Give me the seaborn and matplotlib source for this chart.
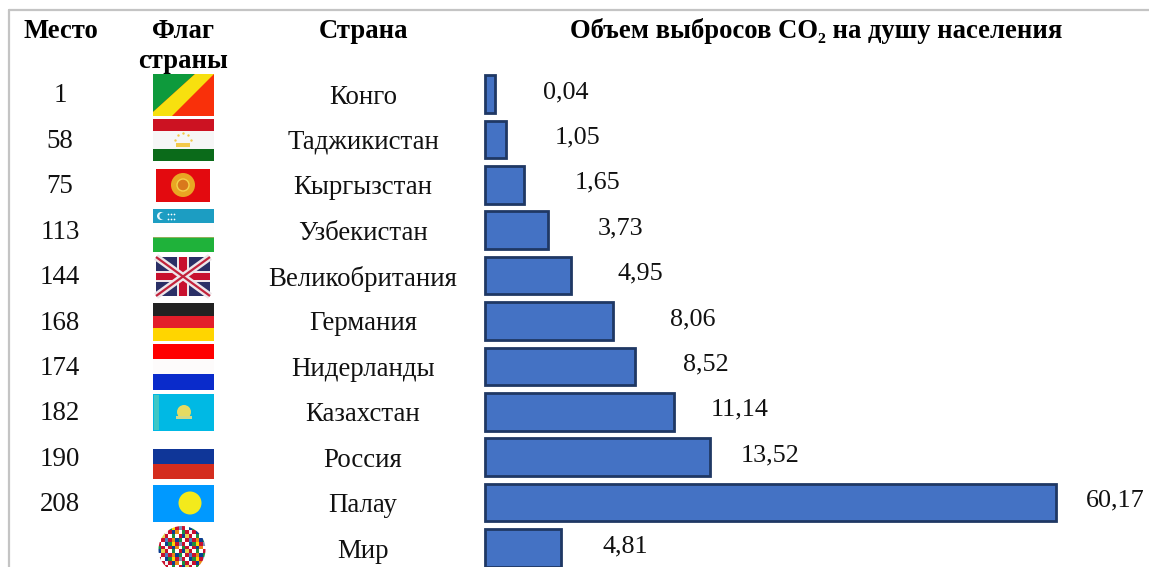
import numpy as np
import pandas as pd
import seaborn as sns
import matplotlib.pyplot as plt
from matplotlib.patches import Rectangle, Circle, Polygon

# Данные таблицы
mesta = ['1', '58', '75', '113', '144', '168', '174', '182', '190', '208', '']
strany = ['Конго', 'Таджикистан', 'Кыргызстан', 'Узбекистан', 'Великобритания', 'Германия',
          'Нидерланды', 'Казахстан', 'Россия', 'Палау', 'Мир']
podpisi = ['0,04', '1,05', '1,65', '3,73', '4,95', '8,06', '8,52', '11,14', '13,52', '60,17', '4,81']
# длины столбцов на картинке не пропорциональны подписям, поэтому читаем их отдельно
dliny = [1.1, 2.25, 4.15, 6.58, 9.0, 13.5, 15.75, 19.85, 23.65, 60.1, 7.95]
# сдвиг подписи от конца столбца, пиксели
sdvig_x = [70, 71, 73, 73, 70, 79, 71, 66, 60, 59, 65]

W, H = 1149, 567
SHAG = 45.4
Y0 = 94
X0 = 485
MASSHTAB = 572 / 60.17

sns.set_theme(style='white')
plt.rcParams['font.family'] = ['Liberation Serif', 'DejaVu Serif']
plt.rcParams['font.size'] = 19.4

df = pd.DataFrame({'strana': strany, 'dlina': dliny})

fig = plt.figure(figsize=(W / 100, H / 100), dpi=100, facecolor='white')
ax = fig.add_axes([0, 0, 1, 1])
sns.barplot(data=df, y='strana', x='dlina', orient='h', color='#4472C4', saturation=1,
            edgecolor='#1F3864', linewidth=2, width=0.83, ax=ax)
ax.set_xlim(-X0 / MASSHTAB, (W - X0) / MASSHTAB)
ax.set_ylim((H - Y0) / SHAG, -Y0 / SHAG)
ax.axis('off')

for i, (d, p, s) in enumerate(zip(dliny, podpisi, sdvig_x)):
    ax.annotate(p, xy=(d, i), xytext=(s, 2), textcoords='offset pixels',
                ha='center', va='center', color='#111111', fontsize=18.8)

# Слой в пикселях: рамка, заголовки, колонки и флаги
ov = fig.add_axes([0, 0, 1, 1], facecolor='none')
ov.set_xlim(0, W)
ov.set_ylim(H, 0)
ov.axis('off')

ov.plot([9, 9], [10, H], color='#c4c4c4', lw=1.6)
ov.plot([9, W], [10, 10], color='#c4c4c4', lw=1.6)

shapka = dict(ha='center', va='center', fontweight='bold', color='black', fontsize=19.2)
ov.text(61, 31, 'Место', **shapka)
ov.text(183, 31, 'Флаг', **shapka)
ov.text(183, 61, 'страны', **shapka)
ov.text(363, 31, 'Страна', **shapka)
ov.text(816, 31, 'Объем выбросов CO₂ на душу населения', **shapka)

for i, (m, s) in enumerate(zip(mesta, strany)):
    y = Y0 + SHAG * i
    ov.text(60, y + 2, m, ha='center', va='center', color='#111111')
    ov.text(363, y + 3, s, ha='center', va='center', color='#111111')


def polosy(x0, x1, y0, cveta):
    # cveta: список (нижняя граница полосы, цвет)
    for y1, c in cveta:
        ov.add_patch(Rectangle((x0, y0), x1 - x0, y1 - y0, fc=c, ec='none'))
        y0 = y1


# Конго
ov.add_patch(Rectangle((153, 74), 61, 42, fc='#F9300A', ec='none'))
ov.add_patch(Polygon([(153, 74), (195, 74), (153, 112)], fc='#0E9A3C', ec='none'))
ov.add_patch(Polygon([(195, 74), (214, 74), (172, 116), (153, 116), (153, 112)], fc='#F7E00F', ec='none'))
# Таджикистан
polosy(153, 214, 119, [(131, '#CC1222'), (149, '#F6F6F6'), (161, '#0B6B1A')])
ov.add_patch(Rectangle((176, 143), 14, 4, fc='#F3C94A', ec='none'))
ov.scatter([175, 178, 183, 188, 191], [140, 135, 133, 135, 140], s=3, color='#F3C94A', lw=0)
# Кыргызстан
ov.add_patch(Rectangle((156, 169), 54, 33, fc='#E30A0F', ec='none'))
ov.add_patch(Circle((183, 185), 12, fc='#E9A623', ec='none'))
ov.add_patch(Circle((183, 185), 6, fc='#D9781C', ec='#F4D24A', lw=1))
# Узбекистан
polosy(153, 214, 209, [(223, '#1C9DC2'), (237, '#FDFDFD'), (238, '#8FAF5A'), (252, '#1FB23A')])
ov.add_patch(Circle((161, 216), 4, fc='#E8F6FA', ec='none'))
ov.add_patch(Circle((163, 216), 3.6, fc='#1C9DC2', ec='none'))
ov.scatter([168, 171, 174, 168, 171, 174], [214, 214, 214, 219, 219, 219], s=1.5, color='white', lw=0)
# Великобритания
ov.add_patch(Rectangle((156, 257), 54, 39, fc='#2A2F66', ec='none'))
ov.plot([156, 210], [257, 296], color='#EDE6EA', lw=5, solid_capstyle='butt')
ov.plot([156, 210], [296, 257], color='#EDE6EA', lw=5, solid_capstyle='butt')
ov.plot([156, 210], [257, 296], color='#C2233C', lw=1.6, solid_capstyle='butt')
ov.plot([156, 210], [296, 257], color='#C2233C', lw=1.6, solid_capstyle='butt')
ov.add_patch(Rectangle((156, 271), 54, 11, fc='#EDE6EA', ec='none'))
ov.add_patch(Rectangle((177, 257), 12, 39, fc='#EDE6EA', ec='none'))
ov.add_patch(Rectangle((156, 273), 54, 7, fc='#C8102E', ec='none'))
ov.add_patch(Rectangle((179, 257), 8, 39, fc='#C8102E', ec='none'))
# Германия
polosy(153, 214, 303, [(316, '#222222'), (328, '#E31E2A'), (341, '#FFD500')])
# Нидерланды
polosy(153, 214, 344, [(359, '#FF0000'), (374, '#FDFBFB'), (390, '#0A2BCB')])
# Казахстан
ov.add_patch(Rectangle((153, 394), 61, 37, fc='#00B9E4', ec='none'))
ov.add_patch(Rectangle((154, 395), 5, 35, fc='#3FC7C6', ec='none'))
ov.add_patch(Circle((184, 412), 7, fc='#E6DB62', ec='none'))
ov.add_patch(Rectangle((176, 416), 16, 3, fc='#CFD98A', ec='none'))
# Россия
polosy(153, 214, 449, [(464, '#0F3698'), (479, '#D42D1E')])
# Палау
ov.add_patch(Rectangle((153, 485), 61, 37, fc='#0099FF', ec='none'))
ov.add_patch(Circle((190, 503), 11.5, fc='#F3EA1C', ec='none'))

# Шар из флагов: мозаика, обрезанная кругом
mozaika = np.array([['#C8102E', '#FFFFFF', '#0B3D91', '#1E8E3E', '#FFD500', '#C8102E', '#7A8FB8'],
                    ['#1E8E3E', '#C8102E', '#F2F2F2', '#C8102E', '#0B3D91', '#E98A15', '#FFFFFF'],
                    ['#0B3D91', '#E8D44D', '#C8102E', '#FFFFFF', '#1E8E3E', '#FFFFFF', '#C8102E'],
                    ['#FFFFFF', '#C8102E', '#4F7FC0', '#C8102E', '#E98A15', '#0B3D91', '#1E8E3E']])
rgb = plt.matplotlib.colors.to_rgba_array(mozaika.ravel())[:, :3].reshape(4, 7, 3)
ryady = np.tile(rgb, (3, 2, 1))
kartinka = ov.imshow(ryady, extent=(158, 206, 573, 526), interpolation='nearest', aspect='auto', zorder=3)
krug = Circle((182, 549.5), 23.5, transform=ov.transData)
kartinka.set_clip_path(krug)
ov.set_xlim(0, W)
ov.set_ylim(H, 0)

fig.savefig('out.png', dpi=100, facecolor='white')
plt.close()
